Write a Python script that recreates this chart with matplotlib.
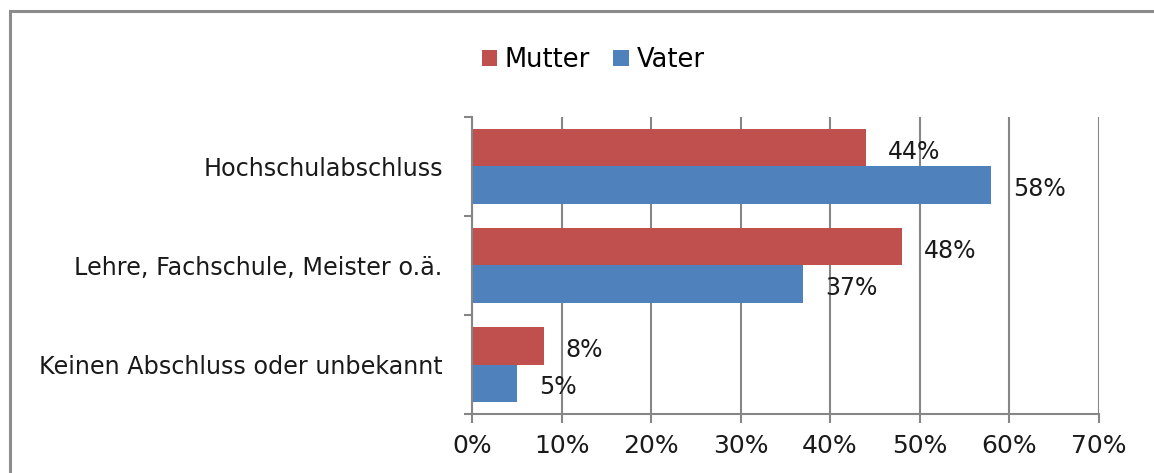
# Horizontal bar chart: Schulabschluss der Eltern (Mutter / Vater)

import matplotlib
matplotlib.use("Agg")
import matplotlib.pyplot as plt
import matplotlib.ticker as mticker
from matplotlib.lines import Line2D
import numpy as np

categories = ["Hochschulabschluss", "Lehre, Fachschule, Meister o.ä.", "Keinen Abschluss oder unbekannt"]
mutter = [44, 48, 8]
vater = [58, 37, 5]
series_names = ["Mutter", "Vater"]
xticks = [0, 10, 20, 30, 40, 50, 60, 70]

red = "#C0504D"
blue = "#4F81BD"
grey = "#868686"
txt = "#1a1a1a"

plt.rcParams["font.family"] = ["DejaVu Sans"]
plt.rcParams["font.size"] = 16

fig = plt.figure(figsize=(11.54, 4.73), dpi=100)
ax = fig.add_axes([0.409, 0.1247, 0.543, 0.628])

y = np.arange(len(categories))
h = 0.38
b1 = ax.barh(y - h / 2, mutter, height=h, color=red, label=series_names[0])
b2 = ax.barh(y + h / 2, vater, height=h, color=blue, label=series_names[1])

for bars, vals in ((b1, mutter), (b2, vater)):
  for bar, v in zip(bars, vals):
    ax.annotate(f"{v}%", (bar.get_width(), bar.get_y() + bar.get_height() / 2),
                xytext=(16, -3), textcoords="offset points", va="center", ha="left",
                color=txt, fontsize=17)

ax.set_xlim(0, 70)
ax.set_ylim(2.5, -0.5)
ax.set_xticks(xticks)
ax.xaxis.set_major_formatter(mticker.FuncFormatter(lambda v, p: f"{v:.0f}%"))
ax.set_yticks(y)
ax.set_yticklabels(categories, color=txt, fontsize=17.2)
ax.set_yticks([-0.5, 0.5, 1.5, 2.5], minor=True)
ax.tick_params(axis="y", which="major", length=0, pad=21)
ax.tick_params(axis="y", which="minor", length=6, width=1.5, color=grey)
ax.tick_params(axis="x", length=6.5, width=1.5, color=grey, pad=8, labelcolor=txt, labelsize=18)
ax.grid(axis="x", color=grey, linewidth=1.5)
ax.set_axisbelow(True)
for s in ("top", "right"):
  ax.spines[s].set_visible(False)
for s in ("left", "bottom"):
  ax.spines[s].set_color(grey)
  ax.spines[s].set_linewidth(1.5)

fig.legend(handles=[b1, b2], loc="center", bbox_to_anchor=(0.514, 0.873), ncol=2,
           frameon=False, handlelength=0.6, handleheight=0.6, handletextpad=0.3,
           columnspacing=0.9, fontsize=18.5)

# chart frame (top and left edges visible)
fig.add_artist(Line2D([0.009, 1.0], [0.977, 0.977], color="#8c8c8c", linewidth=2.2, transform=fig.transFigure))
fig.add_artist(Line2D([0.009, 0.009], [0.0, 0.977], color="#8c8c8c", linewidth=2.2, transform=fig.transFigure))

fig.savefig("out.png", dpi=100)
